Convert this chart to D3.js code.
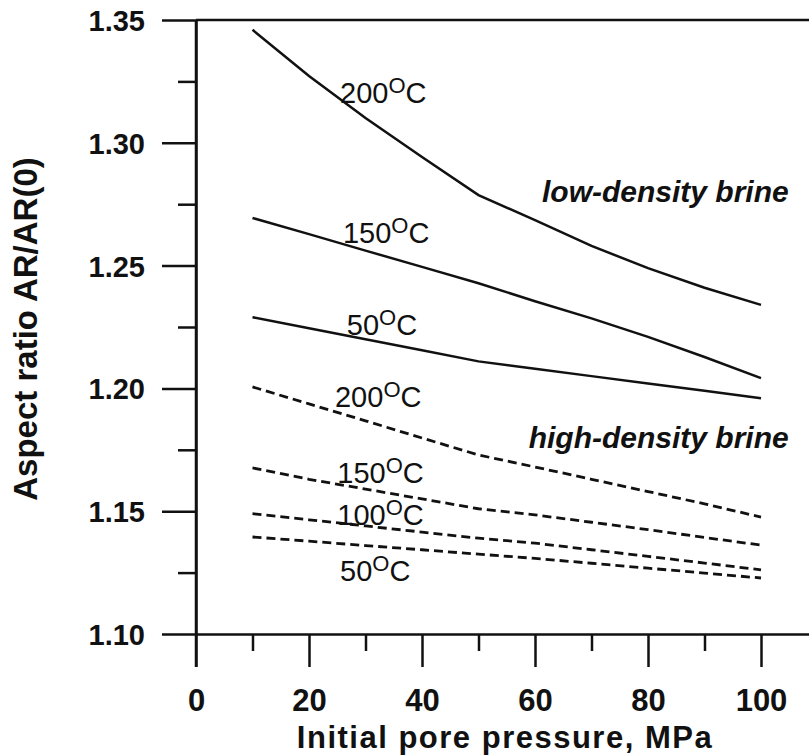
<!DOCTYPE html>
<html>
<head>
<meta charset="utf-8">
<script src="https://cdn.jsdelivr.net/npm/d3@7"></script>
<style>
    body { margin: 0; background: #fff; }
    text { font-family: "Liberation Sans", Arial, sans-serif; fill: #111; }
    .tick-label { font-weight: bold; }
    .axis-title { font-weight: bold; }
    .curve-label { font-size: 29px; }
    .brine-label { font-weight: bold; font-style: italic; font-size: 30px; }
</style>
</head>
<body>
<div id="chart"></div>
<script>
// data: aspect ratio AR/AR(0) vs initial pore pressure (MPa)
const pressure = [10, 20, 30, 40, 50, 60, 70, 80, 90, 100];

// low-density brine (solid lines)
const low200 = [1.346, 1.3272, 1.3101, 1.2942, 1.2787, 1.2685, 1.258, 1.249, 1.241, 1.234];
const low150 = [1.2694, 1.2628, 1.2561, 1.2495, 1.2428, 1.2355, 1.2285, 1.221, 1.2128, 1.2042];
const low50 = [1.229, 1.2245, 1.220, 1.2155, 1.211, 1.208, 1.205, 1.202, 1.199, 1.196];

// high-density brine (dashed lines)
const high200 = [1.2006, 1.1937, 1.1868, 1.1798, 1.1729, 1.168, 1.163, 1.158, 1.153, 1.1476];
const high150 = [1.1676, 1.163, 1.159, 1.155, 1.151, 1.1485, 1.1455, 1.1425, 1.1393, 1.1362];
const high100 = [1.149, 1.1465, 1.144, 1.1415, 1.139, 1.137, 1.1343, 1.1316, 1.1289, 1.1261];
const high50 = [1.1395, 1.1378, 1.136, 1.1343, 1.1325, 1.1308, 1.1288, 1.1268, 1.1248, 1.1228];

// tick values
const xMajor = [0, 20, 40, 60, 80, 100];
const xMinor = [10, 30, 50, 70, 90];
const yMajor = [1.10, 1.15, 1.20, 1.25, 1.30, 1.35];
const yMinor = [1.125, 1.175, 1.225, 1.275, 1.325];

const series = [
    { values: low200, dashed: false },
    { values: low150, dashed: false },
    { values: low50, dashed: false },
    { values: high200, dashed: true },
    { values: high150, dashed: true },
    { values: high100, dashed: true },
    { values: high50, dashed: true }
];

// curve labels (temperature in degrees C), anchored in data units
const curveLabels = [
    { t: "200", p: 25.5, v: 1.3162 },
    { t: "150", p: 26, v: 1.2592 },
    { t: "50", p: 26.7, v: 1.2217 },
    { t: "200", p: 24.6, v: 1.1924 },
    { t: "150", p: 25, v: 1.1615 },
    { t: "100", p: 25, v: 1.1444 },
    { t: "50", p: 25.5, v: 1.1216 }
];

const W = 809, H = 755;

const svg = d3.select("#chart").append("svg")
    .attr("width", W)
    .attr("height", H);

// SCALES
const x = d3.scaleLinear()
    .domain([0, 110])
    .range([196, 196 + 110 * 5.65]);

const y = d3.scaleLinear()
    .domain([1.10, 1.35])
    .range([634, 20]);

// top frame line at 1.35
svg.append("line")
    .attr("x1", x(0)).attr("x2", x(110))
    .attr("y1", y(1.35)).attr("y2", y(1.35))
    .attr("stroke", "#111").attr("stroke-width", 2.5);

// X AXIS (major + minor)
const xAxisMajor = d3.axisBottom(x)
    .tickValues(xMajor)
    .tickSize(33)
    .tickSizeOuter(0)
    .tickPadding(44)
    .tickFormat(d3.format("d"));

const xg = svg.append("g")
    .attr("transform", `translate(0, ${y(1.10)})`)
    .call(xAxisMajor);

xg.selectAll("text").attr("class", "tick-label").style("font-size", "31px").attr("dy", 0);

svg.append("g")
    .attr("transform", `translate(0, ${y(1.10)})`)
    .call(d3.axisBottom(x).tickValues(xMinor).tickSize(17).tickFormat(""))
    .select(".domain").remove();

// Y AXIS (major + minor)
const yg = svg.append("g")
    .attr("transform", `translate(${x(0)}, 0)`)
    .call(d3.axisLeft(y)
        .tickValues(yMajor)
        .tickSize(34)
        .tickSizeOuter(0)
        .tickPadding(17)
        .tickFormat(d3.format(".2f")));

yg.selectAll("text").attr("class", "tick-label").style("font-size", "29px").attr("dy", "0.36em");

svg.append("g")
    .attr("transform", `translate(${x(0)}, 0)`)
    .call(d3.axisLeft(y).tickValues(yMinor).tickSize(18).tickFormat(""))
    .select(".domain").remove();

// y axis line continues down to the bottom of the 0 tick
svg.append("line")
    .attr("x1", x(0)).attr("x2", x(0))
    .attr("y1", y(1.35)).attr("y2", y(1.10) + 33)
    .attr("stroke", "#111").attr("stroke-width", 2.5);

svg.selectAll(".domain, .tick line")
    .attr("stroke", "#111")
    .attr("stroke-width", 2.5);

// AXIS TITLES
svg.append("text")
    .attr("class", "axis-title")
    .attr("x", 505)
    .attr("y", 748)
    .attr("text-anchor", "middle")
    .style("font-size", "31px")
    .style("letter-spacing", "1.5px")
    .text("Initial pore pressure, MPa");

svg.append("text")
    .attr("class", "axis-title")
    .attr("transform", "translate(37, 329) rotate(-90)")
    .attr("text-anchor", "middle")
    .style("font-size", "33px")
    .text("Aspect ratio AR/AR(0)");

// LINES
const line = d3.line()
    .x((d, i) => x(pressure[i]))
    .y(d => y(d));

svg.append("g")
    .attr("class", "lines-group")
    .selectAll("path")
    .data(series)
    .enter()
    .append("path")
    .attr("d", d => line(d.values))
    .attr("fill", "none")
    .attr("stroke", "#111")
    .attr("stroke-width", d => d.dashed ? 2.8 : 2.5)
    .attr("stroke-dasharray", d => d.dashed ? "9,5" : null);

// CURVE LABELS  e.g. 200°C with raised O
const lab = svg.append("g").selectAll("text")
    .data(curveLabels)
    .enter()
    .append("text")
    .attr("class", "curve-label")
    .attr("x", d => x(d.p))
    .attr("y", d => y(d.v));

lab.append("tspan").text(d => d.t);
lab.append("tspan").attr("dy", -10).style("font-size", "22px").text("O");
lab.append("tspan").attr("dy", 10).text("C");

// brine labels
svg.append("text")
    .attr("class", "brine-label")
    .attr("x", x(104.9)).attr("y", y(1.2759))
    .attr("text-anchor", "end")
    .text("low-density brine");

svg.append("text")
    .attr("class", "brine-label")
    .attr("x", x(104.9)).attr("y", y(1.1757))
    .attr("text-anchor", "end")
    .text("high-density brine");
</script>
</body>
</html>
